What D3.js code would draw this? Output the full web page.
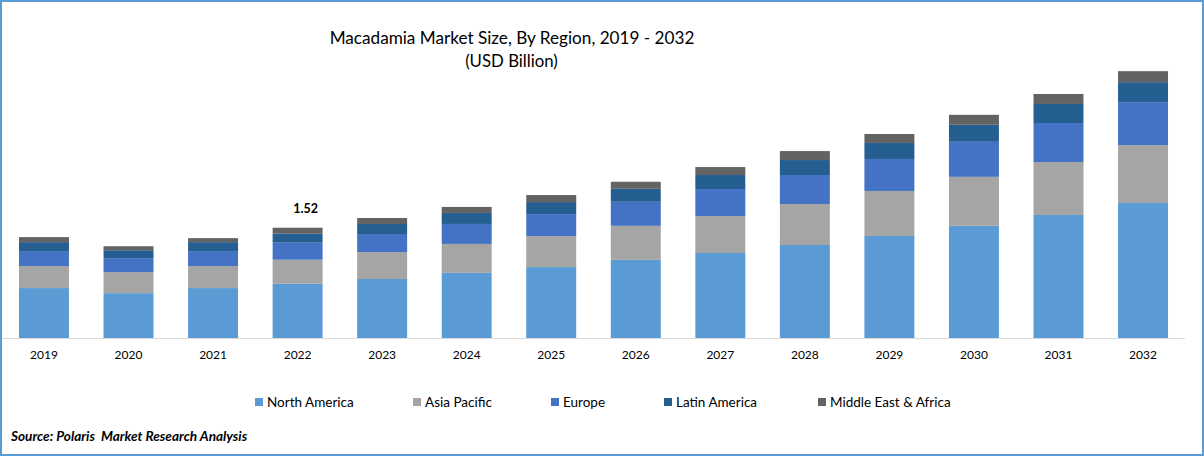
<!DOCTYPE html>
<html>
<head>
<meta charset="utf-8">
<script src="https://cdnjs.cloudflare.com/ajax/libs/d3/7.8.5/d3.min.js"></script>
<style>
  html, body { margin: 0; padding: 0; background: #fff; }
  svg { display: block; font-family: Lato, "Open Sans", sans-serif; }
</style>
</head>
<body>
<div id="chart"></div>
<script>
var years = ["2019","2020","2021","2022","2023","2024","2025","2026","2027","2028","2029","2030","2031","2032"];
var regions = ["North America","Asia Pacific","Europe","Latin America","Middle East & Africa"];

// USD billion
var northAmerica = [0.69,0.62,0.69,0.75,0.815,0.90,0.98,1.08,1.175,1.285,1.41,1.55,1.70,1.865];
var asiaPacific  = [0.304,0.29,0.304,0.332,0.373,0.40,0.428,0.47,0.511,0.567,0.622,0.677,0.732,0.80];
var europe       = [0.207,0.193,0.207,0.235,0.249,0.276,0.304,0.332,0.373,0.40,0.442,0.484,0.539,0.594];
var latinAmerica = [0.124,0.11,0.124,0.124,0.138,0.152,0.166,0.18,0.193,0.207,0.221,0.235,0.263,0.276];
var middleEast   = [0.069,0.055,0.055,0.083,0.083,0.083,0.097,0.097,0.11,0.124,0.124,0.138,0.138,0.152];

var colors = ["#5B9BD5","#A5A5A5","#4472C4","#255E91","#636363"];

var width = 1204, height = 456;
var series = [northAmerica, asiaPacific, europe, latinAmerica, middleEast];

var rows = years.map((y, i) => {
  var row = { year: y };
  regions.forEach((r, k) => { row[r] = series[k][i]; });
  return row;
});

var stacked = d3.stack().keys(regions)(rows);

var svg = d3.select("#chart").append("svg")
  .attr("width", width)
  .attr("height", height);

svg.append("rect")
  .attr("width", width).attr("height", height)
  .attr("fill", "#fff");

var x = d3.scaleBand()
  .domain(years)
  .range([1.7, 1185.3])
  .paddingInner(0.409)
  .paddingOuter(0.2045);

var y = d3.scaleLinear()
  .domain([0, 1.52])
  .range([338, 228]);

// bars
svg.append("g").selectAll("g")
  .data(stacked)
  .enter().append("g")
  .attr("fill", (d, i) => colors[i])
  .selectAll("rect")
  .data(d => d)
  .enter().append("rect")
  .attr("x", d => x(d.data.year))
  .attr("y", d => y(d[1]))
  .attr("width", x.bandwidth())
  .attr("height", d => y(d[0]) - y(d[1]));

// x axis
var axis = svg.append("g")
  .attr("transform", "translate(0,338)")
  .call(d3.axisBottom(x).tickSize(0).tickPadding(12));
axis.select(".domain").attr("stroke", "#d9d9d9").attr("d", "M2,0.5H1185");
axis.selectAll("text")
  .attr("font-family", "Lato")
  .attr("font-size", 12)
  .attr("fill", "#000");

// value label
svg.append("text")
  .attr("x", x("2022") + x.bandwidth() / 2 + 8)
  .attr("y", 213)
  .attr("text-anchor", "middle")
  .attr("font-size", 12.5)
  .attr("font-weight", 700)
  .attr("fill", "#000")
  .text("1.52");

// title
svg.append("text")
  .attr("x", 512).attr("y", 44)
  .attr("text-anchor", "middle")
  .attr("font-size", 17.15)
  .attr("fill", "#000")
  .text("Macadamia Market Size, By Region, 2019 - 2032");
svg.append("text")
  .attr("x", 511.5).attr("y", 67)
  .attr("text-anchor", "middle")
  .attr("font-size", 16.8)
  .attr("fill", "#000")
  .text("(USD Billion)");

// legend
var legendX = [255, 413, 551, 664, 818];
var legend = svg.append("g").selectAll("g")
  .data(regions)
  .enter().append("g")
  .attr("transform", (d, i) => "translate(" + legendX[i] + ",398)");
legend.append("rect")
  .attr("width", 8).attr("height", 8)
  .attr("fill", (d, i) => colors[i]);
legend.append("text")
  .attr("x", 12).attr("y", 9)
  .attr("font-size", 13.5)
  .attr("fill", "#000")
  .text(d => d);

// source
svg.append("text")
  .attr("x", 11).attr("y", 441)
  .attr("font-size", 13.6)
  .attr("font-weight", 700)
  .attr("font-style", "italic")
  .attr("fill", "#000")
  .style("white-space", "pre")
  .text("Source: Polaris  Market Research Analysis");

// picture frame
svg.append("rect")
  .attr("x", 1).attr("y", 1)
  .attr("width", width - 2).attr("height", height - 2)
  .attr("fill", "none")
  .attr("stroke", "#5B9BD5")
  .attr("stroke-width", 2);
</script>
</body>
</html>
